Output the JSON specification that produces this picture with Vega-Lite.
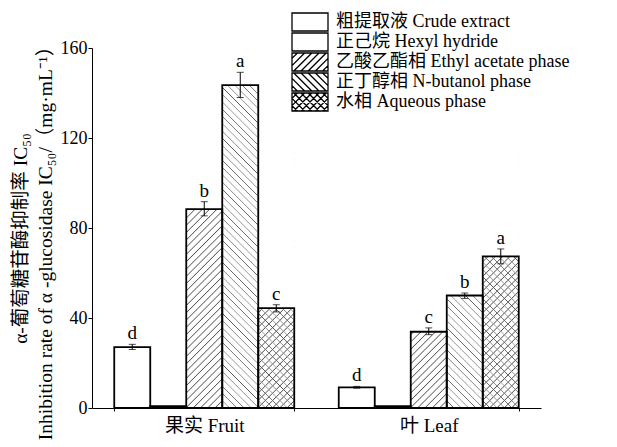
{
"$schema": "https://vega.github.io/schema/vega-lite/v6.json",
"autosize": "none",
"width": 449,
"height": 360,
"padding": {"left": 92, "top": 48, "right": 76, "bottom": 39},
"background": "white",
"config": {"view": {"stroke": null}, "font": "Liberation Serif, Noto Sans CJK SC"},
"data": {"values": [
{"g": "果实 Fruit", "k": "c", "s": "粗提取液 Crude extract", "v": 27.1, "lo": 26.0, "hi": 28.3, "l": "d"},
{"g": "果实 Fruit", "k": "h", "s": "正己烷 Hexyl hydride", "v": 0.8, "lo": null, "hi": null, "l": null},
{"g": "果实 Fruit", "k": "e", "s": "乙酸乙酯相 Ethyl acetate phase", "v": 88.4, "lo": 85.4, "hi": 91.7, "l": "b"},
{"g": "果实 Fruit", "k": "b", "s": "正丁醇相 N-butanol phase", "v": 143.5, "lo": 138.0, "hi": 149.2, "l": "a"},
{"g": "果实 Fruit", "k": "w", "s": "水相 Aqueous phase", "v": 44.4, "lo": 42.7, "hi": 45.9, "l": "c"},
{"g": "叶 Leaf", "k": "c", "s": "粗提取液 Crude extract", "v": 9.2, "lo": 8.8, "hi": 9.6, "l": "d"},
{"g": "叶 Leaf", "k": "h", "s": "正己烷 Hexyl hydride", "v": 0.8, "lo": null, "hi": null, "l": null},
{"g": "叶 Leaf", "k": "e", "s": "乙酸乙酯相 Ethyl acetate phase", "v": 33.9, "lo": 32.6, "hi": 35.6, "l": "c"},
{"g": "叶 Leaf", "k": "b", "s": "正丁醇相 N-butanol phase", "v": 50.0, "lo": 48.7, "hi": 51.1, "l": "b"},
{"g": "叶 Leaf", "k": "w", "s": "水相 Aqueous phase", "v": 67.4, "lo": 64.1, "hi": 70.7, "l": "a"}
]},
"encoding": {
"x": {"field": "g", "type": "nominal", "title": null,
 "scale": {"domain": ["果实 Fruit", "叶 Leaf"], "paddingInner": 0.1982, "paddingOuter": 0.0991},
 "axis": {"labelAngle": 0, "labelFont": "Liberation Serif, Noto Sans CJK SC", "labelFontSize": 19, "labelColor": "black", "labelPadding": 5, "domainColor": "black", "domainWidth": 1, "ticks": true, "tickColor": "black", "tickSize": 3, "tickWidth": 1, "tickOffset": 0, "tickBand": "extent"}},
"xOffset": {"field": "s", "type": "nominal",
 "scale": {"domain": ["粗提取液 Crude extract", "正己烷 Hexyl hydride", "乙酸乙酯相 Ethyl acetate phase", "正丁醇相 N-butanol phase", "水相 Aqueous phase"], "paddingInner": 0, "paddingOuter": 0}}
},
"layer": [
{"mark": {"type": "bar", "fill": "white", "fillOpacity": 0, "stroke": null},
 "encoding": {"y": {"field": "v", "type": "quantitative", "scale": {"domain": [0, 160]},
  "axis": {"values": [0, 40, 80, 120, 160], "grid": false, "labelFont": "Liberation Serif", "labelFontSize": 18, "labelColor": "black", "labelPadding": 1, "domainColor": "black", "tickColor": "black", "tickSize": 4,
   "title": ["α-葡萄糖苷酶抑制率 IC₅₀", "Inhibition rate of α -glucosidase IC₅₀/（mg·mL⁻¹）"],
   "titleFont": "Liberation Serif, Noto Sans CJK SC", "titleFontSize": 19.5, "titleFontWeight": "normal", "titleColor": "black", "titleX": -71.5, "titleY": 190, "titleAngle": -90, "titleBaseline": "middle", "titleAlign": "center", "titleLineHeight": 25}}}},
{"transform": [{"filter": {"field": "k", "oneOf": ["e", "w"]}}],
 "mark": {"type": "bar", "fill": {"gradient": "linear", "x1": 0, "y1": 0, "x2": 0.120156, "y2": 1.096421, "stops": [
{"offset":0,"color":"#555"},{"offset":0.003,"color":"#fff"},{"offset":0.017,"color":"#fff"},
{"offset":0.02,"color":"#555"},{"offset":0.023,"color":"#fff"},{"offset":0.037,"color":"#fff"},
{"offset":0.04,"color":"#555"},{"offset":0.043,"color":"#fff"},{"offset":0.057,"color":"#fff"},
{"offset":0.06,"color":"#555"},{"offset":0.063,"color":"#fff"},{"offset":0.077,"color":"#fff"},
{"offset":0.08,"color":"#555"},{"offset":0.083,"color":"#fff"},{"offset":0.097,"color":"#fff"},
{"offset":0.1,"color":"#555"},{"offset":0.103,"color":"#fff"},{"offset":0.117,"color":"#fff"},
{"offset":0.12,"color":"#555"},{"offset":0.123,"color":"#fff"},{"offset":0.137,"color":"#fff"},
{"offset":0.14,"color":"#555"},{"offset":0.143,"color":"#fff"},{"offset":0.157,"color":"#fff"},
{"offset":0.16,"color":"#555"},{"offset":0.163,"color":"#fff"},{"offset":0.177,"color":"#fff"},
{"offset":0.18,"color":"#555"},{"offset":0.183,"color":"#fff"},{"offset":0.197,"color":"#fff"},
{"offset":0.2,"color":"#555"},{"offset":0.203,"color":"#fff"},{"offset":0.217,"color":"#fff"},
{"offset":0.22,"color":"#555"},{"offset":0.223,"color":"#fff"},{"offset":0.237,"color":"#fff"},
{"offset":0.24,"color":"#555"},{"offset":0.243,"color":"#fff"},{"offset":0.257,"color":"#fff"},
{"offset":0.26,"color":"#555"},{"offset":0.263,"color":"#fff"},{"offset":0.277,"color":"#fff"},
{"offset":0.28,"color":"#555"},{"offset":0.283,"color":"#fff"},{"offset":0.297,"color":"#fff"},
{"offset":0.3,"color":"#555"},{"offset":0.303,"color":"#fff"},{"offset":0.317,"color":"#fff"},
{"offset":0.32,"color":"#555"},{"offset":0.323,"color":"#fff"},{"offset":0.337,"color":"#fff"},
{"offset":0.34,"color":"#555"},{"offset":0.343,"color":"#fff"},{"offset":0.357,"color":"#fff"},
{"offset":0.36,"color":"#555"},{"offset":0.363,"color":"#fff"},{"offset":0.377,"color":"#fff"},
{"offset":0.38,"color":"#555"},{"offset":0.383,"color":"#fff"},{"offset":0.397,"color":"#fff"},
{"offset":0.4,"color":"#555"},{"offset":0.403,"color":"#fff"},{"offset":0.417,"color":"#fff"},
{"offset":0.42,"color":"#555"},{"offset":0.423,"color":"#fff"},{"offset":0.437,"color":"#fff"},
{"offset":0.44,"color":"#555"},{"offset":0.443,"color":"#fff"},{"offset":0.457,"color":"#fff"},
{"offset":0.46,"color":"#555"},{"offset":0.463,"color":"#fff"},{"offset":0.477,"color":"#fff"},
{"offset":0.48,"color":"#555"},{"offset":0.483,"color":"#fff"},{"offset":0.497,"color":"#fff"},
{"offset":0.5,"color":"#555"},{"offset":0.503,"color":"#fff"},{"offset":0.517,"color":"#fff"},
{"offset":0.52,"color":"#555"},{"offset":0.523,"color":"#fff"},{"offset":0.537,"color":"#fff"},
{"offset":0.54,"color":"#555"},{"offset":0.543,"color":"#fff"},{"offset":0.557,"color":"#fff"},
{"offset":0.56,"color":"#555"},{"offset":0.563,"color":"#fff"},{"offset":0.577,"color":"#fff"},
{"offset":0.58,"color":"#555"},{"offset":0.583,"color":"#fff"},{"offset":0.597,"color":"#fff"},
{"offset":0.6,"color":"#555"},{"offset":0.603,"color":"#fff"},{"offset":0.617,"color":"#fff"},
{"offset":0.62,"color":"#555"},{"offset":0.623,"color":"#fff"},{"offset":0.637,"color":"#fff"},
{"offset":0.64,"color":"#555"},{"offset":0.643,"color":"#fff"},{"offset":0.657,"color":"#fff"},
{"offset":0.66,"color":"#555"},{"offset":0.663,"color":"#fff"},{"offset":0.677,"color":"#fff"},
{"offset":0.68,"color":"#555"},{"offset":0.683,"color":"#fff"},{"offset":0.697,"color":"#fff"},
{"offset":0.7,"color":"#555"},{"offset":0.703,"color":"#fff"},{"offset":0.717,"color":"#fff"},
{"offset":0.72,"color":"#555"},{"offset":0.723,"color":"#fff"},{"offset":0.737,"color":"#fff"},
{"offset":0.74,"color":"#555"},{"offset":0.743,"color":"#fff"},{"offset":0.757,"color":"#fff"},
{"offset":0.76,"color":"#555"},{"offset":0.763,"color":"#fff"},{"offset":0.777,"color":"#fff"},
{"offset":0.78,"color":"#555"},{"offset":0.783,"color":"#fff"},{"offset":0.797,"color":"#fff"},
{"offset":0.8,"color":"#555"},{"offset":0.803,"color":"#fff"},{"offset":0.817,"color":"#fff"},
{"offset":0.82,"color":"#555"},{"offset":0.823,"color":"#fff"},{"offset":0.837,"color":"#fff"},
{"offset":0.84,"color":"#555"},{"offset":0.843,"color":"#fff"},{"offset":0.857,"color":"#fff"},
{"offset":0.86,"color":"#555"},{"offset":0.863,"color":"#fff"},{"offset":0.877,"color":"#fff"},
{"offset":0.88,"color":"#555"},{"offset":0.883,"color":"#fff"},{"offset":0.897,"color":"#fff"},
{"offset":0.9,"color":"#555"},{"offset":0.903,"color":"#fff"},{"offset":0.917,"color":"#fff"},
{"offset":0.92,"color":"#555"},{"offset":0.923,"color":"#fff"},{"offset":0.937,"color":"#fff"},
{"offset":0.94,"color":"#555"},{"offset":0.943,"color":"#fff"},{"offset":0.957,"color":"#fff"},
{"offset":0.96,"color":"#555"},{"offset":0.963,"color":"#fff"},{"offset":0.977,"color":"#fff"},
{"offset":0.98,"color":"#555"},{"offset":0.983,"color":"#fff"},{"offset":0.997,"color":"#fff"},
{"offset":1,"color":"#555"}]}},
 "encoding": {"y": {"datum": 146, "type": "quantitative", "scale": {"domain": [0, 160]}}, "y2": {"datum": 0}}},
{"transform": [{"filter": {"field": "k", "oneOf": ["b", "w"]}}],
 "mark": {"type": "bar", "fill": {"gradient": "linear", "x1": 0, "y1": 1, "x2": 0.120156, "y2": -0.096421, "stops": [
{"offset":0,"color":"#555"},{"offset":0.003,"color":"#fff0"},{"offset":0.017,"color":"#fff0"},
{"offset":0.02,"color":"#555"},{"offset":0.023,"color":"#fff0"},{"offset":0.037,"color":"#fff0"},
{"offset":0.04,"color":"#555"},{"offset":0.043,"color":"#fff0"},{"offset":0.057,"color":"#fff0"},
{"offset":0.06,"color":"#555"},{"offset":0.063,"color":"#fff0"},{"offset":0.077,"color":"#fff0"},
{"offset":0.08,"color":"#555"},{"offset":0.083,"color":"#fff0"},{"offset":0.097,"color":"#fff0"},
{"offset":0.1,"color":"#555"},{"offset":0.103,"color":"#fff0"},{"offset":0.117,"color":"#fff0"},
{"offset":0.12,"color":"#555"},{"offset":0.123,"color":"#fff0"},{"offset":0.137,"color":"#fff0"},
{"offset":0.14,"color":"#555"},{"offset":0.143,"color":"#fff0"},{"offset":0.157,"color":"#fff0"},
{"offset":0.16,"color":"#555"},{"offset":0.163,"color":"#fff0"},{"offset":0.177,"color":"#fff0"},
{"offset":0.18,"color":"#555"},{"offset":0.183,"color":"#fff0"},{"offset":0.197,"color":"#fff0"},
{"offset":0.2,"color":"#555"},{"offset":0.203,"color":"#fff0"},{"offset":0.217,"color":"#fff0"},
{"offset":0.22,"color":"#555"},{"offset":0.223,"color":"#fff0"},{"offset":0.237,"color":"#fff0"},
{"offset":0.24,"color":"#555"},{"offset":0.243,"color":"#fff0"},{"offset":0.257,"color":"#fff0"},
{"offset":0.26,"color":"#555"},{"offset":0.263,"color":"#fff0"},{"offset":0.277,"color":"#fff0"},
{"offset":0.28,"color":"#555"},{"offset":0.283,"color":"#fff0"},{"offset":0.297,"color":"#fff0"},
{"offset":0.3,"color":"#555"},{"offset":0.303,"color":"#fff0"},{"offset":0.317,"color":"#fff0"},
{"offset":0.32,"color":"#555"},{"offset":0.323,"color":"#fff0"},{"offset":0.337,"color":"#fff0"},
{"offset":0.34,"color":"#555"},{"offset":0.343,"color":"#fff0"},{"offset":0.357,"color":"#fff0"},
{"offset":0.36,"color":"#555"},{"offset":0.363,"color":"#fff0"},{"offset":0.377,"color":"#fff0"},
{"offset":0.38,"color":"#555"},{"offset":0.383,"color":"#fff0"},{"offset":0.397,"color":"#fff0"},
{"offset":0.4,"color":"#555"},{"offset":0.403,"color":"#fff0"},{"offset":0.417,"color":"#fff0"},
{"offset":0.42,"color":"#555"},{"offset":0.423,"color":"#fff0"},{"offset":0.437,"color":"#fff0"},
{"offset":0.44,"color":"#555"},{"offset":0.443,"color":"#fff0"},{"offset":0.457,"color":"#fff0"},
{"offset":0.46,"color":"#555"},{"offset":0.463,"color":"#fff0"},{"offset":0.477,"color":"#fff0"},
{"offset":0.48,"color":"#555"},{"offset":0.483,"color":"#fff0"},{"offset":0.497,"color":"#fff0"},
{"offset":0.5,"color":"#555"},{"offset":0.503,"color":"#fff0"},{"offset":0.517,"color":"#fff0"},
{"offset":0.52,"color":"#555"},{"offset":0.523,"color":"#fff0"},{"offset":0.537,"color":"#fff0"},
{"offset":0.54,"color":"#555"},{"offset":0.543,"color":"#fff0"},{"offset":0.557,"color":"#fff0"},
{"offset":0.56,"color":"#555"},{"offset":0.563,"color":"#fff0"},{"offset":0.577,"color":"#fff0"},
{"offset":0.58,"color":"#555"},{"offset":0.583,"color":"#fff0"},{"offset":0.597,"color":"#fff0"},
{"offset":0.6,"color":"#555"},{"offset":0.603,"color":"#fff0"},{"offset":0.617,"color":"#fff0"},
{"offset":0.62,"color":"#555"},{"offset":0.623,"color":"#fff0"},{"offset":0.637,"color":"#fff0"},
{"offset":0.64,"color":"#555"},{"offset":0.643,"color":"#fff0"},{"offset":0.657,"color":"#fff0"},
{"offset":0.66,"color":"#555"},{"offset":0.663,"color":"#fff0"},{"offset":0.677,"color":"#fff0"},
{"offset":0.68,"color":"#555"},{"offset":0.683,"color":"#fff0"},{"offset":0.697,"color":"#fff0"},
{"offset":0.7,"color":"#555"},{"offset":0.703,"color":"#fff0"},{"offset":0.717,"color":"#fff0"},
{"offset":0.72,"color":"#555"},{"offset":0.723,"color":"#fff0"},{"offset":0.737,"color":"#fff0"},
{"offset":0.74,"color":"#555"},{"offset":0.743,"color":"#fff0"},{"offset":0.757,"color":"#fff0"},
{"offset":0.76,"color":"#555"},{"offset":0.763,"color":"#fff0"},{"offset":0.777,"color":"#fff0"},
{"offset":0.78,"color":"#555"},{"offset":0.783,"color":"#fff0"},{"offset":0.797,"color":"#fff0"},
{"offset":0.8,"color":"#555"},{"offset":0.803,"color":"#fff0"},{"offset":0.817,"color":"#fff0"},
{"offset":0.82,"color":"#555"},{"offset":0.823,"color":"#fff0"},{"offset":0.837,"color":"#fff0"},
{"offset":0.84,"color":"#555"},{"offset":0.843,"color":"#fff0"},{"offset":0.857,"color":"#fff0"},
{"offset":0.86,"color":"#555"},{"offset":0.863,"color":"#fff0"},{"offset":0.877,"color":"#fff0"},
{"offset":0.88,"color":"#555"},{"offset":0.883,"color":"#fff0"},{"offset":0.897,"color":"#fff0"},
{"offset":0.9,"color":"#555"},{"offset":0.903,"color":"#fff0"},{"offset":0.917,"color":"#fff0"},
{"offset":0.92,"color":"#555"},{"offset":0.923,"color":"#fff0"},{"offset":0.937,"color":"#fff0"},
{"offset":0.94,"color":"#555"},{"offset":0.943,"color":"#fff0"},{"offset":0.957,"color":"#fff0"},
{"offset":0.96,"color":"#555"},{"offset":0.963,"color":"#fff0"},{"offset":0.977,"color":"#fff0"},
{"offset":0.98,"color":"#555"},{"offset":0.983,"color":"#fff0"},{"offset":0.997,"color":"#fff0"},
{"offset":1,"color":"#555"}]}},
 "encoding": {"y": {"datum": 146, "type": "quantitative", "scale": {"domain": [0, 160]}}, "y2": {"datum": 0}}},
{"transform": [{"filter": {"field": "k", "oneOf": ["e", "b", "w"]}}],
 "mark": {"type": "bar", "fill": "white", "stroke": "white", "strokeWidth": 1},
 "encoding": {"y": {"field": "v", "type": "quantitative", "scale": {"domain": [0, 160]}}, "y2": {"datum": 147}}},
{"mark": {"type": "bar", "fill": "white", "fillOpacity": 0, "stroke": "black", "strokeWidth": 1.8},
 "encoding": {"y": {"field": "v", "type": "quantitative", "scale": {"domain": [0, 160]}}}},
{"mark": {"type": "rule", "color": "black", "strokeWidth": 1},
 "encoding": {"y": {"field": "lo", "type": "quantitative", "scale": {"domain": [0, 160]}}, "y2": {"field": "hi"}}},
{"mark": {"type": "tick", "color": "black", "size": 7, "thickness": 1},
 "encoding": {"y": {"field": "lo", "type": "quantitative", "scale": {"domain": [0, 160]}}}},
{"mark": {"type": "tick", "color": "black", "size": 7, "thickness": 1},
 "encoding": {"y": {"field": "hi", "type": "quantitative", "scale": {"domain": [0, 160]}}}},
{"mark": {"type": "text", "dy": -5, "baseline": "alphabetic", "fontSize": 19, "font": "Liberation Serif", "color": "black"},
 "encoding": {"y": {"field": "hi", "type": "quantitative", "scale": {"domain": [0, 160]}}, "text": {"field": "l"}}},
{"transform": [{"filter": "false"}],
 "mark": {"type": "point", "filled": false, "color": "black", "strokeWidth": 1.3, "size": 324, "opacity": 1},
 "encoding": {"y": {"field": "v", "type": "quantitative", "scale": {"domain": [0, 160]}},
  "shape": {"field": "s", "type": "nominal",
   "scale": {"domain": ["粗提取液 Crude extract", "正己烷 Hexyl hydride", "乙酸乙酯相 Ethyl acetate phase", "正丁醇相 N-butanol phase", "水相 Aqueous phase"],
    "range": ["M-2,-1H2V1H-2Z", "M-2,-1H2V1H-2Z",
     "M-2,-1H2V1H-2ZM-2,-0.4L-1.4,-1M-2,0.4L-0.6,-1M-1.8,1L0.2,-1M-1,1L1,-1M-0.2,1L1.8,-1M0.6,1L2,-0.4M1.4,1L2,0.4",
     "M-2,-1H2V1H-2ZM1.4,-1L2,-0.4M0.6,-1L2,0.4M-0.2,-1L1.8,1M-1,-1L1,1M-1.8,-1L0.2,1M-2,-0.4L-0.6,1M-2,0.4L-1.4,1",
     "M-2,-1H2V1H-2ZM-2,-0.4L-1.4,-1M-2,0.4L-0.6,-1M-1.8,1L0.2,-1M-1,1L1,-1M-0.2,1L1.8,-1M0.6,1L2,-0.4M1.4,1L2,0.4M1.4,-1L2,-0.4M0.6,-1L2,0.4M-0.2,-1L1.8,1M-1,-1L1,1M-1.8,-1L0.2,1M-2,-0.4L-0.6,1M-2,0.4L-1.4,1"]},
   "legend": {"orient": "none", "legendX": 198, "legendY": -36, "title": null, "padding": 0, "rowPadding": 0, "clipHeight": 20, "symbolOffset": 10, "symbolSize": 324, "symbolStrokeWidth": 1.3, "symbolStrokeColor": "black", "symbolFillColor": "white", "symbolOpacity": 1, "labelFont": "Liberation Serif, Noto Sans CJK SC", "labelFontSize": 18, "labelColor": "black", "labelOffset": 16, "labelLimit": 0, "labelBaseline": "middle"}}}}
]
}
